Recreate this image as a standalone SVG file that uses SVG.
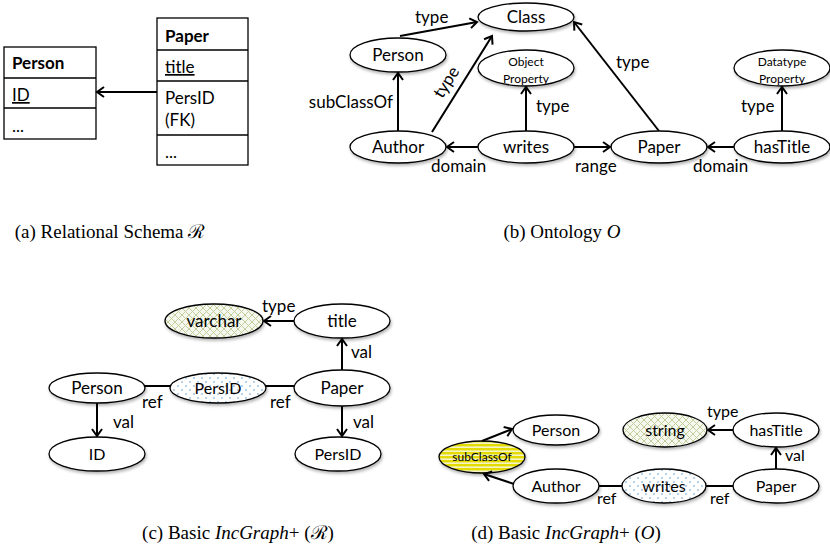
<svg xmlns="http://www.w3.org/2000/svg" width="830" height="555" viewBox="0 0 830 555">
<style>
.n{font-family:Lato,"Open Sans",sans-serif;font-size:17px;text-anchor:middle;fill:#000}
.s{font-family:Lato,"Open Sans",sans-serif;font-size:12px;text-anchor:middle;fill:#000}
.l{font-family:Lato,"Open Sans",sans-serif;font-size:17px;fill:#000}
.t{font-family:Lato,"Open Sans",sans-serif;font-size:17px;fill:#000}
.b{font-weight:bold}
.cap{font-family:"Liberation Serif","Times New Roman",serif;font-size:19px;text-anchor:middle;fill:#000}
.e{fill:#fff;stroke:#000;stroke-width:1.3;filter:url(#sh)}
.tb{fill:#fff;stroke:#000;stroke-width:1.3}
.c{stroke:#000;stroke-width:2;fill:none}
.a{marker-end:url(#arr)}
</style>
<defs>
<filter id="sh" x="-20%" y="-20%" width="140%" height="150%">
<feDropShadow dx="1" dy="2" stdDeviation="1.5" flood-color="#000" flood-opacity="0.3"/>
</filter>
<marker id="arr" markerUnits="userSpaceOnUse" markerWidth="12" markerHeight="12" refX="9" refY="6" orient="auto">
<path d="M2,1 L9,6 L2,11" fill="none" stroke="#000" stroke-width="2"/>
</marker>
<pattern id="dots" width="8" height="8" patternUnits="userSpaceOnUse">
<rect width="8" height="8" fill="#fff"/>
<circle cx="2" cy="2" r="0.8" fill="#5b9bd5"/>
<circle cx="6" cy="6" r="0.8" fill="#5b9bd5"/>
</pattern>
<pattern id="hatch" width="7" height="7" patternUnits="userSpaceOnUse">
<rect width="7" height="7" fill="#f6f8f0"/>
<path d="M0,0 L7,7 M7,0 L0,7" stroke="#c2cf9c" stroke-width="1"/>
</pattern>
<pattern id="stripes" width="4" height="4" patternUnits="userSpaceOnUse">
<rect width="4" height="4" fill="#f4f4c8"/>
<rect width="4" height="2.4" fill="#e4dc00"/>
</pattern>
</defs>

<!-- (a) Relational schema -->
<g id="table-person">
<rect class="tb" x="4" y="47" width="92" height="92"/>
<line x1="4" y1="78" x2="96" y2="78" stroke="#000" stroke-width="1.3"/>
<line x1="4" y1="108" x2="96" y2="108" stroke="#000" stroke-width="1.3"/>
<text class="t b" x="12" y="69">Person</text>
<text class="t" x="12" y="101" text-decoration="underline">ID</text>
<text class="t" x="12" y="132">...</text>
</g>
<g id="table-paper">
<rect class="tb" x="157" y="18" width="91" height="147"/>
<line x1="157" y1="50" x2="248" y2="50" stroke="#000" stroke-width="1.3"/>
<line x1="157" y1="81" x2="248" y2="81" stroke="#000" stroke-width="1.3"/>
<line x1="157" y1="135" x2="248" y2="135" stroke="#000" stroke-width="1.3"/>
<text class="t b" x="165" y="42">Paper</text>
<text class="t" x="165" y="73" text-decoration="underline">title</text>
<text class="t" x="165" y="104">PersID</text>
<text class="t" x="165" y="126">(FK)</text>
<text class="t" x="165" y="158">...</text>
</g>

<!-- (b) Ontology nodes -->
<g id="b-class"><ellipse class="e" cx="526" cy="17" rx="48" ry="14"/><text class="n" x="526" y="23">Class</text></g>
<g id="b-person"><ellipse class="e" cx="398" cy="55" rx="48" ry="17"/><text class="n" x="398" y="61">Person</text></g>
<g id="b-objprop"><ellipse class="e" cx="526" cy="68" rx="48" ry="18"/><text class="s" x="526" y="66">Object</text><text class="s" x="526" y="83">Property</text></g>
<g id="b-author"><ellipse class="e" cx="398" cy="147" rx="48" ry="16"/><text class="n" x="398" y="153">Author</text></g>
<g id="b-writes"><ellipse class="e" cx="526" cy="147" rx="48" ry="16"/><text class="n" x="526" y="153">writes</text></g>
<g id="b-paper"><ellipse class="e" cx="659" cy="147" rx="48" ry="16"/><text class="n" x="659" y="153">Paper</text></g>
<g id="b-hastitle"><ellipse class="e" cx="782" cy="147" rx="48" ry="16"/><text class="n" x="782" y="153">hasTitle</text></g>
<g id="b-dtprop"><ellipse class="e" cx="782" cy="68" rx="48" ry="18"/><text class="s" x="782" y="66">Datatype</text><text class="s" x="782" y="83">Property</text></g>

<!-- (c) IncGraph+ (R) nodes -->
<g id="c-varchar"><ellipse class="e" cx="214" cy="321" rx="49" ry="17" style="fill:url(#hatch)"/><text class="n" x="214" y="327">varchar</text></g>
<g id="c-title"><ellipse class="e" cx="342" cy="321" rx="48" ry="17"/><text class="n" x="342" y="327">title</text></g>
<g id="c-person"><ellipse class="e" cx="97" cy="388" rx="48" ry="15"/><text class="n" x="97" y="394">Person</text></g>
<g id="c-persid-ref"><ellipse class="e" cx="218" cy="388" rx="48" ry="15" style="fill:url(#dots)"/><text class="n" x="218" y="394" style="font-size:16px">PersID</text></g>
<g id="c-paper"><ellipse class="e" cx="342" cy="388" rx="48" ry="18"/><text class="n" x="342" y="394">Paper</text></g>
<g id="c-id"><ellipse class="e" cx="97" cy="454" rx="48" ry="17"/><text class="n" x="97" y="460" style="font-size:16px">ID</text></g>
<g id="c-persid"><ellipse class="e" cx="338" cy="454" rx="43" ry="17"/><text class="n" x="338" y="460" style="font-size:16px">PersID</text></g>

<!-- (d) IncGraph+ (O) nodes -->
<g id="d-person"><ellipse class="e" cx="556" cy="430" rx="43" ry="15"/><text class="n" x="556" y="436" style="font-size:16px">Person</text></g>
<g id="d-subclassof"><ellipse class="e" cx="482" cy="457" rx="43" ry="16" style="fill:url(#stripes)"/><text class="s" x="482" y="461">subClassOf</text></g>
<g id="d-author"><ellipse class="e" cx="556" cy="486" rx="43" ry="17"/><text class="n" x="556" y="492" style="font-size:16px">Author</text></g>
<g id="d-writes"><ellipse class="e" cx="664" cy="486" rx="42" ry="17" style="fill:url(#dots)"/><text class="n" x="664" y="492" style="font-size:16px">writes</text></g>
<g id="d-paper"><ellipse class="e" cx="776" cy="486" rx="43" ry="17"/><text class="n" x="776" y="492" style="font-size:16px">Paper</text></g>
<g id="d-string"><ellipse class="e" cx="665" cy="430" rx="42" ry="17" style="fill:url(#hatch)"/><text class="n" x="665" y="436" style="font-size:16px">string</text></g>
<g id="d-hastitle"><ellipse class="e" cx="776" cy="430" rx="43" ry="17"/><text class="n" x="776" y="436" style="font-size:16px">hasTitle</text></g>

<!-- connectors -->
<g id="connectors">
<line class="c a" x1="157" y1="92" x2="97" y2="92"/>

<line class="c a" x1="400" y1="36" x2="477" y2="22"/>
<line class="c a" x1="398" y1="131" x2="398" y2="73"/>
<line class="c a" x1="432" y1="132" x2="492" y2="36"/>
<line class="c a" x1="526" y1="131" x2="526" y2="87"/>
<line class="c a" x1="478" y1="147" x2="447" y2="147"/>
<line class="c a" x1="574" y1="147" x2="610" y2="147"/>
<line class="c a" x1="659" y1="131" x2="574" y2="22"/>
<line class="c a" x1="734" y1="147" x2="708" y2="147"/>
<line class="c a" x1="782" y1="131" x2="782" y2="87"/>

<line class="c a" x1="294" y1="321" x2="264" y2="321"/>
<line class="c a" x1="342" y1="370" x2="342" y2="339"/>
<line class="c" x1="145" y1="386" x2="170" y2="386"/>
<line class="c" x1="266" y1="386" x2="294" y2="386"/>
<line class="c a" x1="97" y1="403" x2="97" y2="436"/>
<line class="c a" x1="342" y1="406" x2="342" y2="436"/>

<line class="c a" x1="482" y1="441" x2="512" y2="429"/>
<line class="c a" x1="514" y1="484" x2="484" y2="474"/>
<line class="c" x1="599" y1="486" x2="622" y2="486"/>
<line class="c" x1="706" y1="486" x2="733" y2="486"/>
<line class="c a" x1="776" y1="469" x2="776" y2="448"/>
<line class="c a" x1="733" y1="430" x2="708" y2="430"/>
</g>

<!-- edge labels -->
<g id="labels">
<text class="l" x="415" y="23">type</text>
<text class="l" x="393" y="108" text-anchor="end">subClassOf</text>
<text class="l" x="446" y="88" text-anchor="middle" transform="rotate(-58 446 82)">type</text>
<text class="l" x="536" y="112">type</text>
<text class="l" x="431" y="172">domain</text>
<text class="l" x="575" y="172">range</text>
<text class="l" x="616" y="68">type</text>
<text class="l" x="693" y="172">domain</text>
<text class="l" x="741" y="112">type</text>

<text class="l" x="262" y="312">type</text>
<text class="l" x="351" y="358">val</text>
<text class="l" x="142" y="408">ref</text>
<text class="l" x="270" y="408">ref</text>
<text class="l" x="113" y="428">val</text>
<text class="l" x="353" y="428">val</text>

<text class="l" x="707" y="417" style="font-size:16px">type</text>
<text class="l" x="785" y="461" style="font-size:16px">val</text>
<text class="l" x="597" y="504" style="font-size:16px">ref</text>
<text class="l" x="710" y="504" style="font-size:16px">ref</text>
</g>

<!-- captions -->
<text class="cap" x="110" y="238">(a) Relational Schema ℛ</text>
<text class="cap" x="562" y="238">(b) Ontology <tspan font-style="italic">O</tspan></text>
<text class="cap" x="238" y="539">(c) Basic <tspan font-style="italic">IncGraph</tspan>+ (ℛ)</text>
<text class="cap" x="566" y="539">(d) Basic <tspan font-style="italic">IncGraph</tspan>+ (<tspan font-style="italic">O</tspan>)</text>
</svg>
